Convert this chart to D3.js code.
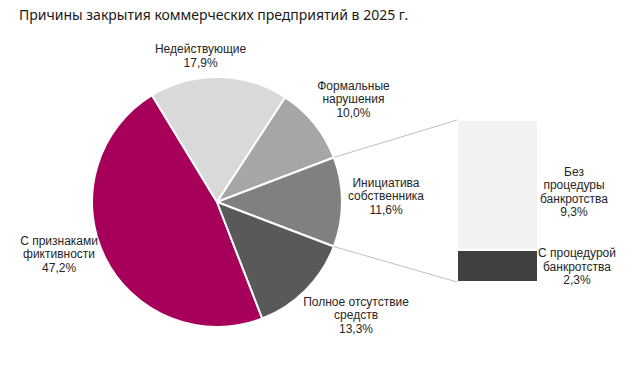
<!DOCTYPE html>
<head>
    <meta charset="utf-8">
    <title>Причины закрытия коммерческих предприятий</title>
    <style>
        body { margin: 0; background: #fff; }
        svg text { font-family: "Liberation Sans", Arial, sans-serif; font-size: 12px; fill: #262626; }
        svg .title { font-family: "Noto Sans", sans-serif; font-size: 14px; fill: #1a1a1a; }
    </style>
</head>
<body>

<script src="https://d3js.org/d3.v7.min.js"></script>

<script>

    // pie data
    var categories = ["С признаками фиктивности", "Недействующие", "Формальные нарушения",
                      "Инициатива собственника", "Полное отсутствие средств"];
    var values = [47.2, 17.9, 10.0, 11.6, 13.3];
    var valueLabels = ["47,2%", "17,9%", "10,0%", "11,6%", "13,3%"];
    var labelLines = [["С признаками", "фиктивности"], ["Недействующие"], ["Формальные", "нарушения"],
                      ["Инициатива", "собственника"], ["Полное отсутствие", "средств"]];

    // split of "Инициатива собственника" (bar of pie)
    var barCategories = ["С процедурой банкротства", "Без процедуры банкротства"];
    var barValues = [2.3, 9.3];
    var barValueLabels = ["2,3%", "9,3%"];
    var barLabelLines = [["С процедурой", "банкротства"], ["Без", "процедуры", "банкротства"]];

    var splitIndex = 3;

    var width = 639, height = 365;
    var cx = 217, cy = 202, radius = 125;
    var colors = ["#a6005b", "#d9d9d9", "#a6a6a6", "#808080", "#595959"];
    var barColors = ["#404040", "#f2f2f2"];
    var lineH = 13.5;

    var svg = d3.select('body').append('svg')
        .attr('width', width)
        .attr('height', height);

    svg.append('text')
        .attr('class', 'title')
        .attr('x', 19)
        .attr('y', 20)
        .text('Причины закрытия коммерческих предприятий в 2025 г.');

    // rotate so the split slice is centered at 3 o'clock
    var total = d3.sum(values);
    var before = d3.sum(values.slice(0, splitIndex)) + values[splitIndex] / 2;
    var start = Math.PI / 2 - before / total * 2 * Math.PI;

    var pie = d3.pie()
        .sort(null)
        .startAngle(start)
        .endAngle(start + 2 * Math.PI);

    var arcs = pie(values);

    var arc = d3.arc().innerRadius(0).outerRadius(radius);
    var labelArc = d3.arc().innerRadius(radius + 40).outerRadius(radius + 40);

    var g = svg.append('g')
        .attr('transform', 'translate(' + cx + ',' + cy + ')');

    g.selectAll('.slice')
        .data(arcs)
        .enter().append('path')
        .attr('class', 'slice')
        .attr('d', arc)
        .attr('fill', function(d, i) { return colors[i]; })
        .attr('stroke', '#fff')
        .attr('stroke-width', 2)
        .attr('stroke-linejoin', 'round');

    // nudges from the label arc centroid
    var nudge = [[-10, -17], [-19, 23], [8, 5], [4, -2], [22, 1]];

    arcs.forEach(function(d, i) {
        var c = labelArc.centroid(d);
        var lines = labelLines[i].concat([valueLabels[i]]);
        var x = c[0] + nudge[i][0], y = c[1] + nudge[i][1];
        var t = g.append('text')
            .attr('text-anchor', 'middle');
        lines.forEach(function(s, j) {
            t.append('tspan')
                .attr('x', x)
                .attr('y', y + (j - (lines.length - 1) / 2) * lineH)
                .text(s);
        });
    });

    // bar of pie
    var barX = 457, barW = 81;
    var y = d3.scaleLinear()
        .domain([0, d3.sum(barValues)])
        .range([282, 120]);

    var stacked = [];
    var acc = 0;
    barValues.forEach(function(v, i) {
        stacked.push({ y0: acc, y1: acc + v, i: i });
        acc += v;
    });

    svg.selectAll('.seg')
        .data(stacked)
        .enter().append('rect')
        .attr('class', 'seg')
        .attr('x', barX)
        .attr('width', barW)
        .attr('y', function(d) { return y(d.y1); })
        .attr('height', function(d) { return y(d.y0) - y(d.y1); })
        .attr('fill', function(d) { return barColors[d.i]; })
        .attr('stroke', '#fff')
        .attr('stroke-width', 2);

    // connector lines from the split slice to the bar
    var sp = arcs[splitIndex];
    var p0 = [cx + radius * Math.sin(sp.startAngle), cy - radius * Math.cos(sp.startAngle)];
    var p1 = [cx + radius * Math.sin(sp.endAngle), cy - radius * Math.cos(sp.endAngle)];

    svg.append('line')
        .attr('x1', p0[0]).attr('y1', p0[1])
        .attr('x2', barX).attr('y2', y(d3.sum(barValues)))
        .attr('stroke', '#bfbfbf').attr('stroke-width', 1);
    svg.append('line')
        .attr('x1', p1[0]).attr('y1', p1[1])
        .attr('x2', barX).attr('y2', y(0))
        .attr('stroke', '#bfbfbf').attr('stroke-width', 1);

    var barNudge = [[39, 5], [36, 11]];
    stacked.forEach(function(d, i) {
        var lines = barLabelLines[i].concat([barValueLabels[i]]);
        var x = barX + barW + barNudge[i][0];
        var yc = (y(d.y0) + y(d.y1)) / 2 + barNudge[i][1];
        var t = svg.append('text')
            .attr('text-anchor', 'middle');
        lines.forEach(function(s, j) {
            t.append('tspan')
                .attr('x', x)
                .attr('y', yc + (j - (lines.length - 1) / 2) * lineH)
                .text(s);
        });
    });

</script>

</body>
